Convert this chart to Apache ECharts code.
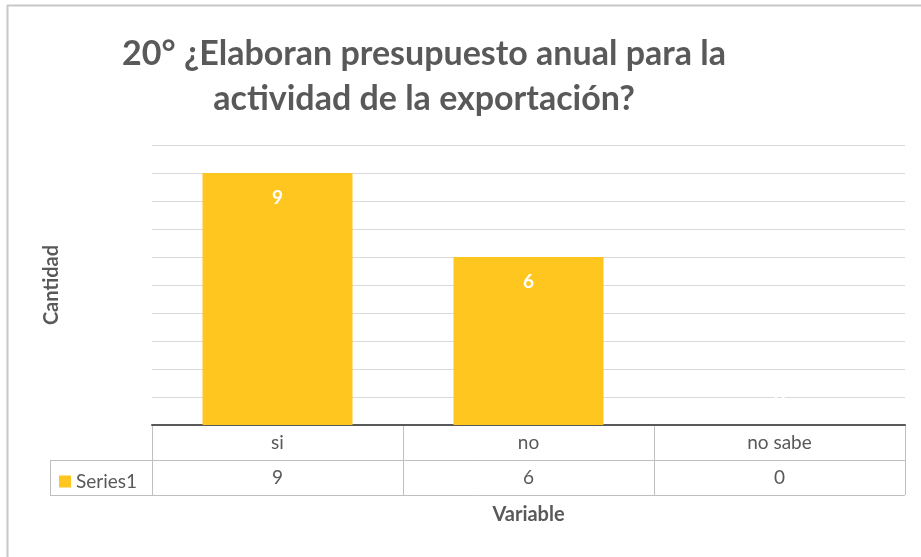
<!DOCTYPE html>
<html>
<head>
<meta charset="utf-8">
<script src="https://cdn.jsdelivr.net/npm/echarts@6/dist/echarts.min.js"></script>
<style>
  html, body { margin: 0; padding: 0; background: #fff; }
  #chart { width: 921px; height: 557px; }
</style>
</head>
<body>
<div id="chart"></div>
<script>
// datos del gráfico
const categories = ['si', 'no', 'no sabe'];
const seriesName = 'Series1';
const values = [9, 6, 0];
const yTicks = [0, 10, 1]; // min, max, intervalo

const FONT = 'Lato';
const GRAY = '#595959';
const GOLD = '#FFC620';

// area del grafico
const gLeft = 152, gRight = 16, gTop = 145, gBottom = 132;
const W = 921, H = 557;
const x0 = gLeft, x1 = W - gRight, y0 = H - gBottom;
const rowH = 35;
const colW = (x1 - x0) / categories.length;

// lineas de la tabla de datos
const tableLines = [];
const lineStyle = { stroke: '#bfbfbf', lineWidth: 1 };
function addLine(ax, ay, bx, by) {
  tableLines.push({ type: 'line', shape: { x1: ax, y1: ay, x2: bx, y2: by }, style: lineStyle, silent: true });
}
for (let i = 0; i <= categories.length; i++) {
  addLine(x0 + colW * i + 0.5, y0, x0 + colW * i + 0.5, y0 + rowH * 2);
}
addLine(50, y0 + rowH + 0.5, x1, y0 + rowH + 0.5);
addLine(50, y0 + rowH * 2 + 0.5, x1, y0 + rowH * 2 + 0.5);
addLine(50.5, y0 + rowH, 50.5, y0 + rowH * 2);

// la etiqueta del valor 0 queda encima del eje, como en Excel
const barData = values.map(v => v === 0 ? { value: v, label: { position: 'top', distance: 18 } } : v);

const myChart = echarts.init(document.getElementById('chart'));
const option = {
  animation: false,
  backgroundColor: '#fff',
  title: {
    text: '20° ¿Elaboran presupuesto anual para la\nactividad de la exportación?',
    left: 419,
    top: 27,
    textAlign: 'center',
    textStyle: { fontFamily: FONT, fontSize: 34, fontWeight: 'bold', color: GRAY, lineHeight: 45 }
  },
  legend: {
    left: 54,
    top: y0 + rowH + 7,
    itemWidth: 12,
    itemHeight: 12,
    itemGap: 6,
    icon: 'rect',
    textStyle: { fontFamily: FONT, fontSize: 19, color: GRAY },
    data: [seriesName]
  },
  grid: { left: gLeft, right: gRight, top: gTop, bottom: gBottom },
  xAxis: [
    {
      type: 'category',
      data: categories,
      position: 'bottom',
      axisLine: { show: true, lineStyle: { color: GRAY, width: 2 } },
      axisTick: { show: false },
      axisLabel: { margin: 8, fontFamily: FONT, fontSize: 19, color: GRAY },
      name: 'Variable',
      nameLocation: 'middle',
      nameGap: 80,
      nameTextStyle: { fontFamily: FONT, fontSize: 20, fontWeight: 'bold', color: GRAY }
    },
    {
      type: 'category',
      data: values.map(String),
      position: 'bottom',
      offset: rowH,
      axisLine: { show: false },
      axisTick: { show: false },
      axisLabel: { margin: 8, fontFamily: FONT, fontSize: 19, color: GRAY }
    }
  ],
  yAxis: {
    type: 'value',
    min: yTicks[0],
    max: yTicks[1],
    interval: yTicks[2],
    axisLabel: { show: false },
    axisLine: { show: false },
    axisTick: { show: false },
    splitLine: { lineStyle: { color: '#d9d9d9', width: 1 } },
    name: 'Cantidad',
    nameLocation: 'middle',
    nameRotate: 90,
    nameGap: 90,
    nameTextStyle: { fontFamily: FONT, fontSize: 20, fontWeight: 'bold', color: GRAY }
  },
  series: [
    {
      name: seriesName,
      type: 'bar',
      data: barData,
      barWidth: 150,
      itemStyle: { color: GOLD },
      label: {
        show: true,
        position: 'insideTop',
        distance: 15,
        color: '#fff',
        fontFamily: FONT,
        fontWeight: 'bold',
        fontSize: 19
      }
    }
  ],
  graphic: [
    { type: 'line', shape: { x1: 7.5, y1: 5, x2: 7.5, y2: H }, style: { stroke: '#c8c8c8', lineWidth: 2 }, silent: true },
    { type: 'line', shape: { x1: 7, y1: 5.5, x2: W, y2: 5.5 }, style: { stroke: '#c8c8c8', lineWidth: 2 }, silent: true }
  ].concat(tableLines)
};
myChart.setOption(option);
</script>
</body>
</html>
